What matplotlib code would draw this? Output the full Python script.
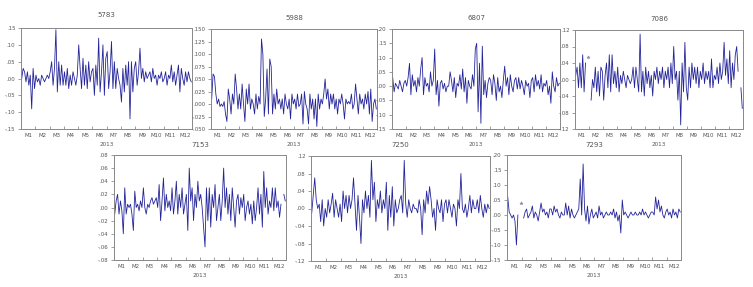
import numpy as np
import matplotlib
matplotlib.use("Agg")
import matplotlib.pyplot as plt

nan = np.nan

months = ["M1", "M2", "M3", "M4", "M5", "M6", "M7", "M8", "M9", "M10", "M11", "M12"]
year = "2013"

# daily returns, read by eye (~10 points per month)
s5783 = [0.00, 0.03, 0.02, -0.01, 0.02, -0.02, 0.01, -0.09, 0.03, -0.03,
         0.01, -0.01, 0.00, -0.02, 0.01, 0.00, -0.01, 0.00, 0.01, 0.00,
         0.02, 0.05, -0.02, 0.03, 0.145, -0.04, 0.05, -0.02, 0.04, -0.02,
         0.02, -0.02, 0.03, -0.03, 0.01, -0.02, 0.02, 0.00, -0.02, 0.01,
         0.10, 0.03, -0.03, 0.06, -0.02, 0.04, -0.03, 0.05, -0.01, 0.02,
         0.03, -0.05, 0.04, -0.02, 0.12, -0.04, 0.02, 0.10, -0.05, 0.06,
         0.08, -0.03, 0.02, 0.11, -0.03, 0.05, -0.03, 0.03, 0.00, -0.02,
         -0.07, 0.03, -0.04, 0.04, -0.02, 0.05, -0.12, 0.05, -0.04, 0.03,
         0.05, -0.02, 0.02, 0.09, 0.00, 0.03, -0.01, 0.02, 0.00, 0.01,
         0.02, -0.01, 0.03, 0.00, 0.01, -0.02, 0.01, 0.00, 0.02, -0.01,
         0.00, 0.02, -0.02, 0.01, 0.00, 0.04, -0.01, 0.02, -0.02, 0.01,
         0.04, -0.04, 0.03, 0.00, -0.02, 0.02, -0.01, 0.02, 0.00, -0.01]

s5988 = [0.01, 0.06, 0.055, 0.02, 0.00, 0.01, -0.005, 0.00, -0.005, 0.005,
         -0.02, -0.035, 0.03, 0.01, -0.02, 0.02, 0.00, 0.06, 0.03, -0.01,
         0.02, -0.01, 0.04, 0.00, -0.035, 0.03, 0.00, 0.04, -0.01, 0.01,
         0.00, -0.02, 0.02, -0.01, 0.015, 0.00, 0.13, 0.10, -0.025, 0.01,
         0.07, -0.02, 0.09, 0.075, -0.02, 0.02, -0.01, 0.03, 0.00, 0.01,
         -0.01, 0.01, -0.02, 0.02, 0.00, -0.01, 0.01, -0.03, 0.02, 0.00,
         0.01, -0.01, 0.02, -0.005, 0.00, 0.02, -0.04, 0.025, 0.00, -0.01,
         -0.04, 0.02, -0.01, 0.01, -0.03, 0.01, -0.045, 0.02, -0.01, 0.01,
         0.00, 0.02, 0.05, 0.01, 0.03, -0.01, 0.02, 0.00, 0.02, -0.01,
         0.01, -0.02, 0.01, 0.00, 0.02, 0.00, -0.03, 0.01, 0.00, 0.005,
         0.00, 0.02, -0.01, 0.00, 0.04, 0.01, -0.02, 0.02, 0.00, 0.01,
         -0.01, 0.02, 0.00, 0.025, -0.02, 0.03, -0.035, 0.00, 0.01, -0.01]

s6807 = [0.03, -0.02, 0.01, 0.00, -0.01, 0.02, 0.00, -0.02, 0.01, 0.02,
         0.00, 0.03, 0.08, -0.03, 0.04, 0.00, 0.02, -0.02, 0.03, 0.00,
         0.06, 0.10, -0.03, 0.03, 0.00, 0.01, -0.02, 0.05, 0.00, 0.02,
         0.13, -0.03, 0.02, -0.07, 0.01, 0.02, -0.01, 0.01, -0.02, 0.00,
         0.00, 0.05, 0.02, -0.02, 0.03, -0.04, 0.01, 0.00, 0.04, -0.01,
         0.06, -0.02, 0.03, -0.06, 0.02, 0.00, -0.01, 0.04, 0.00, 0.13,
         0.15, -0.09, 0.08, -0.13, 0.14, -0.03, 0.02, -0.04, 0.01, 0.03,
         0.02, -0.03, 0.04, 0.01, -0.05, 0.03, -0.02, 0.00, -0.04, 0.02,
         0.07, 0.00, 0.03, -0.03, 0.04, 0.00, -0.02, 0.02, 0.03, -0.01,
         0.03, -0.01, 0.02, 0.00, -0.03, 0.02, 0.00, 0.01, -0.04, 0.02,
         0.03, -0.02, 0.04, 0.00, 0.02, -0.01, 0.04, -0.02, 0.01, 0.00,
         0.02, -0.03, 0.00, -0.06, 0.05, 0.00, -0.02, 0.03, 0.00, 0.01]

s7086 = [0.01, 0.03, -0.02, 0.04, -0.02, 0.06, -0.03, 0.04, nan, 0.055,
         nan, -0.05, 0.00, -0.02, 0.03, -0.03, 0.02, -0.04, 0.03, 0.02,
         -0.05, 0.01, 0.04, -0.02, 0.06, -0.03, 0.06, -0.01, 0.02, -0.02,
         0.03, -0.03, 0.01, -0.01, 0.02, 0.00, -0.02, 0.01, 0.00, -0.01,
         0.00, 0.03, -0.02, 0.03, 0.00, -0.03, 0.11, -0.03, 0.02, -0.04,
         0.03, -0.01, 0.02, -0.02, 0.01, -0.04, 0.02, 0.00, 0.03, -0.01,
         0.02, 0.00, 0.03, -0.02, 0.02, 0.00, 0.03, -0.02, 0.04, -0.01,
         0.08, 0.00, 0.02, -0.05, 0.02, -0.11, 0.04, -0.03, 0.09, -0.02,
         -0.05, 0.03, -0.02, 0.04, 0.00, 0.03, -0.01, 0.03, -0.02, 0.02,
         0.00, 0.04, -0.01, 0.02, 0.00, 0.02, -0.02, 0.05, -0.02, 0.01,
         0.00, 0.03, -0.01, 0.04, 0.00, 0.02, 0.09, 0.01, 0.05, -0.01,
         0.07, -0.02, 0.04, 0.00, 0.06, 0.08, 0.02, nan, -0.02, -0.07]

s7153 = [-0.01, 0.01, 0.02, -0.01, 0.01, -0.005, -0.04, 0.03, -0.01, 0.005,
         0.00, 0.005, -0.01, -0.035, 0.025, 0.00, 0.005, -0.005, 0.01, 0.00,
         0.03, 0.00, -0.01, 0.005, 0.00, 0.01, 0.015, 0.005, 0.01, 0.015,
         0.00, 0.035, -0.02, 0.01, 0.045, -0.005, 0.02, 0.00, 0.01, -0.005,
         0.03, -0.01, 0.01, 0.04, -0.01, 0.02, 0.00, 0.03, -0.01, 0.005,
         0.02, -0.035, 0.06, 0.01, 0.03, -0.02, 0.02, 0.00, 0.04, 0.01,
         0.02, 0.00, -0.03, -0.06, 0.03, -0.02, 0.03, -0.03, 0.02, 0.00,
         0.035, -0.02, 0.00, 0.02, -0.02, 0.01, 0.06, 0.00, 0.03, -0.01,
         0.02, -0.02, 0.03, 0.00, -0.03, 0.01, 0.02, -0.01, 0.015, 0.00,
         0.02, -0.02, 0.00, 0.01, -0.01, 0.005, -0.025, 0.01, -0.02, 0.00,
         0.03, -0.01, 0.02, -0.03, 0.055, 0.00, 0.03, -0.01, 0.01, 0.00,
         0.03, -0.005, 0.03, 0.00, 0.01, -0.015, 0.005, nan, 0.02, 0.01]

s7250 = [-0.01, 0.03, 0.07, 0.02, 0.00, 0.01, -0.03, 0.02, -0.04, 0.00,
         -0.02, 0.02, -0.01, 0.01, 0.035, -0.02, 0.02, 0.00, -0.02, 0.01,
         -0.03, 0.04, 0.00, 0.03, -0.01, 0.03, 0.00, 0.02, 0.07, 0.01,
         -0.05, 0.03, -0.02, -0.08, 0.02, -0.01, 0.04, 0.00, 0.03, -0.02,
         0.11, 0.02, 0.06, -0.03, 0.02, 0.00, 0.04, -0.01, 0.02, 0.00,
         0.06, -0.05, 0.03, -0.02, 0.05, -0.04, 0.02, -0.01, 0.00, 0.02,
         0.03, -0.01, 0.11, 0.01, -0.02, 0.02, 0.00, -0.01, 0.01, 0.00,
         0.00, -0.01, 0.02, 0.00, -0.06, 0.02, -0.01, 0.04, 0.01, 0.05,
         0.02, -0.02, 0.00, -0.05, 0.02, 0.00, -0.01, 0.02, -0.03, 0.01,
         0.02, -0.01, 0.02, 0.00, -0.02, 0.01, 0.00, -0.04, 0.02, 0.00,
         0.08, 0.00, -0.01, 0.01, -0.02, 0.00, 0.03, -0.01, 0.02, 0.00,
         0.00, 0.02, -0.01, 0.03, 0.00, -0.02, 0.01, -0.01, 0.01, 0.00]

s7293 = [0.06, 0.01, 0.00, -0.01, 0.00, -0.02, -0.10, 0.00, nan, 0.04,
         nan, -0.01, 0.01, 0.02, -0.01, 0.00, 0.01, 0.03, -0.01, 0.01,
         0.00, -0.02, 0.01, 0.04, 0.01, 0.02, 0.00, 0.01, -0.01, 0.02,
         0.02, 0.00, 0.03, 0.01, 0.02, 0.00, -0.01, 0.01, 0.00, 0.00,
         0.04, 0.00, 0.03, -0.01, 0.02, 0.00, -0.01, 0.00, 0.01, 0.02,
         0.12, 0.00, 0.17, 0.02, -0.02, 0.03, -0.03, 0.00, 0.02, -0.01,
         0.00, 0.01, -0.01, 0.03, 0.00, 0.01, -0.01, 0.00, 0.01, 0.00,
         0.00, 0.01, 0.00, 0.02, -0.01, 0.01, -0.02, 0.00, -0.06, 0.05,
         0.00, 0.01, 0.00, -0.01, 0.00, 0.01, 0.00, 0.00, 0.01, 0.00,
         0.00, 0.01, 0.00, 0.02, 0.00, 0.01, 0.00, -0.01, 0.00, 0.01,
         0.01, 0.00, 0.06, 0.02, 0.05, 0.01, 0.03, 0.00, -0.01, 0.01,
         0.02, 0.00, 0.01, -0.01, 0.02, 0.00, 0.01, -0.01, 0.02, 0.01]

# name, data, y limits, y step, decimals, axes box in pixels (left, top, right, bottom), title y
panels = [
    ("5783", s5783, (-0.15, 0.15), 0.05, 2, (21, 28, 192, 129), 15),
    ("5988", s5988, (-0.05, 0.15), 0.025, 3, (211, 29, 377, 129), 18),
    ("6807", s6807, (-0.15, 0.20), 0.05, 2, (392, 29, 560, 129), 18),
    ("7086", s7086, (-0.12, 0.12), 0.04, 2, (575, 30, 743, 129), 19),
    ("7153", s7153, (-0.08, 0.08), 0.02, 2, (114, 155, 286, 260), 145),
    ("7250", s7250, (-0.12, 0.12), 0.04, 2, (311, 156, 490, 261), 145),
    ("7293", s7293, (-0.15, 0.20), 0.05, 2, (507, 155, 681, 260), 145),
]

W, H = 753, 287
fig = plt.figure(figsize=(W / 100, H / 100), dpi=100)
line_col = "#24249a"
txt_col = "#555555"


def ev_fmt(v, d):
    s = f"{v:.{d}f}"
    if s.startswith("-"):
        s = s.replace("-0.", "-.")
        if float(s) == 0:
            s = s[1:]
    else:
        s = s.replace("0.", ".", 1)
    return s


for name, data, ylim, step, dec, box, ty in panels:
    l, t, r, b = box
    ax = fig.add_axes([l / W, 1 - b / H, (r - l) / W, (b - t) / H])
    y = np.array(data, dtype=float)
    x = np.linspace(0, 12, len(y) + 1)[:-1] + 6.0 / len(y)
    ax.plot(x, y, color=line_col, lw=0.6)
    # isolated points drawn as small markers
    iso = [i for i in range(len(y)) if not np.isnan(y[i])
           and (i == 0 or np.isnan(y[i - 1])) and (i == len(y) - 1 or np.isnan(y[i + 1]))]
    if iso:
        ax.plot(x[iso], y[iso], ls="none", marker="*", ms=2.5, color="#8888aa", mew=0.3)
    ax.set_xlim(0, 12)
    ax.set_ylim(*ylim)
    yt = np.arange(ylim[0], ylim[1] + step / 2, step)
    ax.set_yticks(yt)
    ax.set_yticklabels([ev_fmt(v, dec) for v in yt])
    ax.set_xticks(np.arange(12) + 0.5)
    ax.set_xticklabels(months)
    ax.set_xticks(np.arange(1, 12), minor=True)
    ax.tick_params(axis="x", which="major", length=0, pad=3, labelsize=3.9, colors=txt_col)
    ax.tick_params(axis="x", which="minor", length=2, direction="in", width=0.5, color="#777777")
    ax.tick_params(axis="y", length=2, width=0.5, pad=2, labelsize=3.9, colors=txt_col, color="#777777")
    for sp in ax.spines.values():
        sp.set_color("#888888")
        sp.set_linewidth(0.7)
    ax.set_xlabel(year, fontsize=4.1, color=txt_col, labelpad=2.5)
    fig.text((l + r) / 2 / W, 1 - ty / H, name, ha="center", va="center",
             fontsize=5.0, color=txt_col)

fig.savefig("out.png", dpi=100)
